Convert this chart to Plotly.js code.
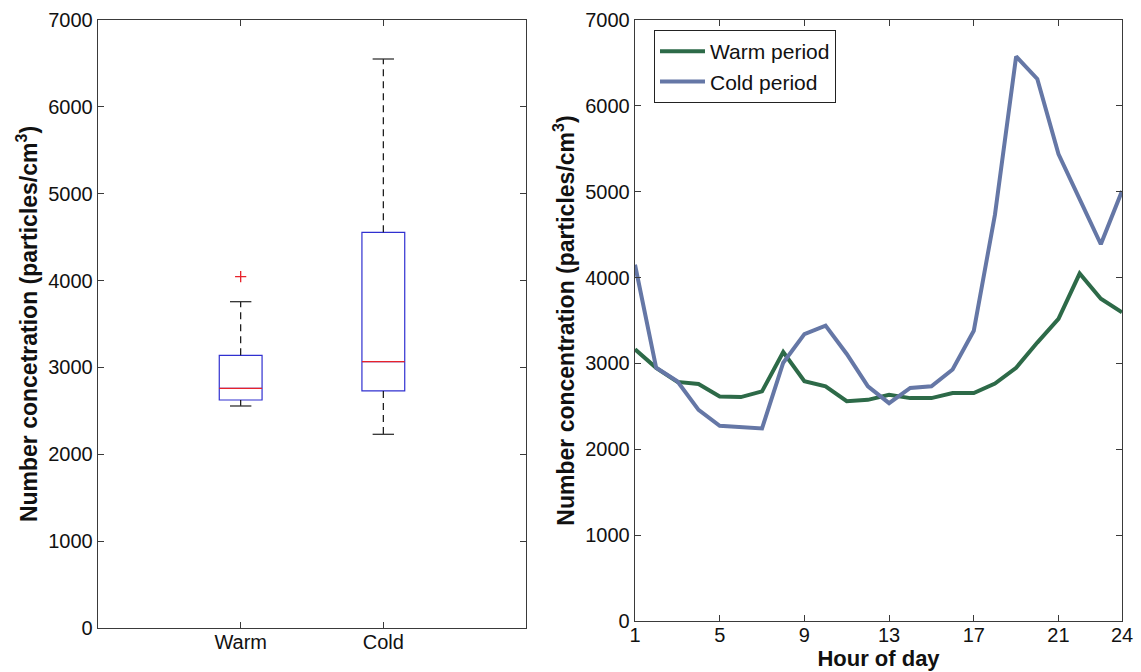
<!DOCTYPE html>
<html>
<head>
<meta charset="utf-8">
<script src="https://cdn.plot.ly/plotly-3.0.1.min.js"></script>
<style>
  html, body { margin: 0; padding: 0; background: #ffffff; }
  #chart { width: 1141px; height: 672px; }
</style>
</head>
<body>
<div id="chart"></div>
<script>
// ---- Box plot data (left panel) ----
const categories = ['Warm', 'Cold'];
const catPositions = [1, 2];
const lowerWhisker = [2556, 2230];
const q1 = [2625, 2729];
const median = [2759, 3066];
const q3 = [3139, 4556];
const upperWhisker = [3757, 6551];
const outlierCategory = [1];
const outlierValues = [4045];

// ---- Diurnal data (right panel) ----
const hours = [1, 2, 3, 4, 5, 6, 7, 8, 9, 10, 11, 12, 13, 14, 15, 16, 17, 18, 19, 20, 21, 22, 23, 24];
const warmPeriod = [3165, 2949, 2785, 2761, 2616, 2608, 2675, 3133, 2792, 2733, 2560, 2576,
                    2635, 2596, 2596, 2655, 2655, 2765, 2949, 3243, 3518, 4047, 3753, 3596];
const coldPeriod = [4150, 2949, 2792, 2459, 2274, 2255, 2243, 3008, 3341, 3440, 3110, 2733,
                    2537, 2714, 2733, 2929, 3380, 4733, 6576, 6314, 5439, 4914, 4388, 5008];
const hourTicks = [1, 5, 9, 13, 17, 21, 24];
const yTicks = [0, 1000, 2000, 3000, 4000, 5000, 6000, 7000];

const BOX_W = 0.3;
const CAP_W = 0.15;
const FONT = 'Liberation Sans, Arial, sans-serif';
const AXC = '#3a3a3a';

const traces = [];

// Boxes (quartiles only; whiskers drawn separately)
catPositions.forEach((p, i) => {
  traces.push({
    type: 'box', xaxis: 'x', yaxis: 'y',
    x: [p], q1: [q1[i]], median: [median[i]], q3: [q3[i]],
    lowerfence: [q1[i]], upperfence: [q3[i]],
    width: BOX_W, boxpoints: false,
    line: { color: '#3030d0', width: 1.2 },
    fillcolor: 'rgba(0,0,0,0)',
    whiskerwidth: 0,
    showlegend: false, hoverinfo: 'skip'
  });
});

// Whiskers (dashed)
const wx = [], wy = [];
catPositions.forEach((p, i) => {
  wx.push(p, p, null, p, p, null);
  wy.push(q3[i], upperWhisker[i], null, q1[i], lowerWhisker[i], null);
});
traces.push({
  type: 'scatter', mode: 'lines', xaxis: 'x', yaxis: 'y',
  x: wx, y: wy, line: { color: '#111111', width: 1.2, dash: '7px,5px' },
  showlegend: false, hoverinfo: 'skip'
});

// Whisker caps
const cx = [], cy = [];
catPositions.forEach((p, i) => {
  cx.push(p - CAP_W / 2, p + CAP_W / 2, null, p - CAP_W / 2, p + CAP_W / 2, null);
  cy.push(upperWhisker[i], upperWhisker[i], null, lowerWhisker[i], lowerWhisker[i], null);
});
traces.push({
  type: 'scatter', mode: 'lines', xaxis: 'x', yaxis: 'y',
  x: cx, y: cy, line: { color: '#333333', width: 1.3 },
  showlegend: false, hoverinfo: 'skip'
});

// Medians (red)
const mx = [], my = [];
catPositions.forEach((p, i) => {
  mx.push(p - BOX_W / 2, p + BOX_W / 2, null);
  my.push(median[i], median[i], null);
});
traces.push({
  type: 'scatter', mode: 'lines', xaxis: 'x', yaxis: 'y',
  x: mx, y: my, line: { color: '#e8222a', width: 1.2 },
  showlegend: false, hoverinfo: 'skip'
});

// Outliers
traces.push({
  type: 'scatter', mode: 'markers', xaxis: 'x', yaxis: 'y',
  x: outlierCategory, y: outlierValues,
  marker: { symbol: 'cross-thin', size: 8, line: { color: '#e8222a', width: 1.3 } },
  showlegend: false, hoverinfo: 'skip'
});

// Right panel lines
traces.push({
  type: 'scatter', mode: 'lines', xaxis: 'x2', yaxis: 'y2',
  x: hours, y: warmPeriod, name: 'Warm period',
  line: { color: '#2d6a48', width: 4 }
});
traces.push({
  type: 'scatter', mode: 'lines', xaxis: 'x2', yaxis: 'y2',
  x: hours, y: coldPeriod, name: 'Cold period',
  line: { color: '#6577a6', width: 4 }
});

const W = 1141, H = 672;
const tickFont = { family: FONT, size: 20, color: '#111' };
const titleFont = { family: FONT, size: 23, color: '#111', weight: 'bold' };

const baseAxis = {
  showline: true, linecolor: AXC, linewidth: 1.3, mirror: 'ticks',
  ticks: 'inside', ticklen: 6, tickcolor: AXC, tickwidth: 1,
  showgrid: false, zeroline: false, tickfont: tickFont, fixedrange: true
};

const layout = {
  width: W, height: H,
  margin: { l: 0, r: 0, t: 0, b: 0 },
  paper_bgcolor: '#ffffff', plot_bgcolor: '#ffffff',
  showlegend: true,
  legend: {
    x: 654 / W, y: 1 - 30 / H, xanchor: 'left', yanchor: 'top',
    bordercolor: '#222', borderwidth: 1, bgcolor: '#ffffff',
    font: { family: FONT, size: 21, color: '#111' },
    itemwidth: 45,
    tracegroupgap: 0
  },
  xaxis: Object.assign({}, baseAxis, {
    domain: [98 / W, 526 / W], range: [0, 3],
    tickvals: catPositions, ticktext: categories, anchor: 'y',
    ticklabelstandoff: -4
  }),
  yaxis: Object.assign({}, baseAxis, {
    domain: [1 - 628 / H, 1 - 20 / H], range: [0, 7000],
    tickvals: yTicks, anchor: 'x',
    title: { text: '<b>Number concetration (particles/cm<sup>3</sup>)</b>', font: titleFont, standoff: 4 }
  }),
  xaxis2: Object.assign({}, baseAxis, {
    domain: [635 / W, 1122 / W], range: [1, 24],
    tickvals: hourTicks, anchor: 'y2',
    ticklabelstandoff: -4,
    title: { text: '<b>Hour of day</b>', font: { family: FONT, size: 22, color: '#111', weight: 'bold' }, standoff: 0 }
  }),
  yaxis2: Object.assign({}, baseAxis, {
    domain: [1 - 621 / H, 1 - 20 / H], range: [0, 7000],
    tickvals: yTicks, anchor: 'x2',
    title: { text: '<b>Number concentration (particles/cm<sup>3</sup>)</b>', font: titleFont, standoff: 4 }
  })
};

Plotly.newPlot('chart', traces, layout, { displayModeBar: false, staticPlot: true });
</script>
</body>
</html>
